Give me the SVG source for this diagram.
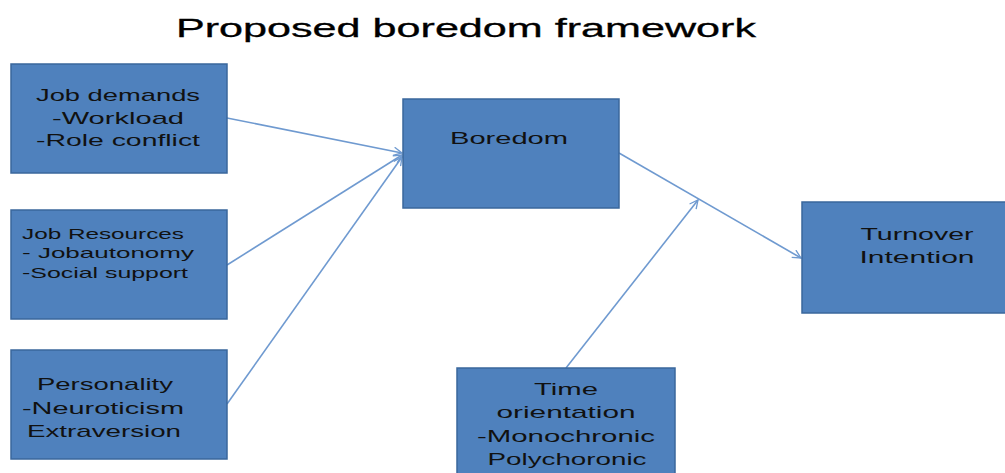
<svg xmlns="http://www.w3.org/2000/svg" width="1005" height="473" viewBox="0 0 1005 473">
<style>
.box{fill:#4F81BD;stroke:#3A679C;stroke-width:1.5}
.t{font-family:"Liberation Sans",Arial,sans-serif;font-size:17px;fill:#111}
.s{font-size:15px}
.c{stroke:#6F9AD0;stroke-width:1.6;fill:none}
</style>
<defs>
<marker id="ah" viewBox="0 0 12 12" refX="11" refY="6" markerWidth="10" markerHeight="10" markerUnits="userSpaceOnUse" orient="auto">
<path d="M1,1 L11,6 L1,11" fill="none" stroke="#6F9AD0" stroke-width="1.6"/>
</marker>
</defs>
<rect width="1005" height="473" fill="#fff"/>
<text x="466" y="37" text-anchor="middle" font-family="'Liberation Sans',Arial,sans-serif" font-size="25" fill="#000" stroke="#000" stroke-width="0.3" textLength="580" lengthAdjust="spacingAndGlyphs">Proposed boredom framework</text>
<g id="connectors">
<line class="c" x1="227" y1="118" x2="402" y2="153" marker-end="url(#ah)"/>
<line class="c" x1="227" y1="265" x2="402" y2="155" marker-end="url(#ah)"/>
<line class="c" x1="227" y1="404" x2="402" y2="157" marker-end="url(#ah)"/>
<line class="c" x1="619" y1="153" x2="801" y2="258" marker-end="url(#ah)"/>
<line class="c" x1="566" y1="368" x2="698" y2="200" marker-end="url(#ah)"/>
</g>
<g id="job-demands">
<rect class="box" x="11" y="64" width="216" height="109"/>
<text class="t" x="118" y="101" text-anchor="middle" textLength="164" lengthAdjust="spacingAndGlyphs">Job demands</text>
<text class="t" x="118" y="124" text-anchor="middle" textLength="132" lengthAdjust="spacingAndGlyphs">-Workload</text>
<text class="t" x="118" y="146" text-anchor="middle" textLength="164" lengthAdjust="spacingAndGlyphs">-Role conflict</text>
</g>
<g id="job-resources">
<rect class="box" x="11" y="210" width="216" height="109"/>
<text class="t s" x="22" y="239" textLength="162" lengthAdjust="spacingAndGlyphs">Job Resources</text>
<text class="t s" x="22" y="258" textLength="172" lengthAdjust="spacingAndGlyphs">- Jobautonomy</text>
<text class="t s" x="22" y="278" textLength="166" lengthAdjust="spacingAndGlyphs">-Social support</text>
</g>
<g id="personality">
<rect class="box" x="11" y="350" width="216" height="109"/>
<text class="t" x="105" y="390" text-anchor="middle" textLength="136" lengthAdjust="spacingAndGlyphs">Personality</text>
<text class="t" x="103" y="414" text-anchor="middle" textLength="162" lengthAdjust="spacingAndGlyphs">-Neuroticism</text>
<text class="t" x="104" y="437" text-anchor="middle" textLength="154" lengthAdjust="spacingAndGlyphs">Extraversion</text>
</g>
<g id="boredom">
<rect class="box" x="403" y="99" width="216" height="109"/>
<text class="t" x="509" y="144" text-anchor="middle" textLength="118" lengthAdjust="spacingAndGlyphs">Boredom</text>
</g>
<g id="time-orientation">
<rect class="box" x="457" y="368" width="218" height="110"/>
<text class="t" x="566" y="395" text-anchor="middle" textLength="64" lengthAdjust="spacingAndGlyphs">Time</text>
<text class="t" x="566" y="418" text-anchor="middle" textLength="139" lengthAdjust="spacingAndGlyphs">orientation</text>
<text class="t" x="566" y="442" text-anchor="middle" textLength="178" lengthAdjust="spacingAndGlyphs">-Monochronic</text>
<text class="t" x="567" y="465" text-anchor="middle" textLength="159" lengthAdjust="spacingAndGlyphs">Polychoronic</text>
</g>
<g id="turnover-intention">
<rect class="box" x="802" y="202" width="210" height="111"/>
<text class="t" x="917" y="240" text-anchor="middle" textLength="113" lengthAdjust="spacingAndGlyphs">Turnover</text>
<text class="t" x="917" y="263" text-anchor="middle" textLength="115" lengthAdjust="spacingAndGlyphs">Intention</text>
</g>
</svg>
